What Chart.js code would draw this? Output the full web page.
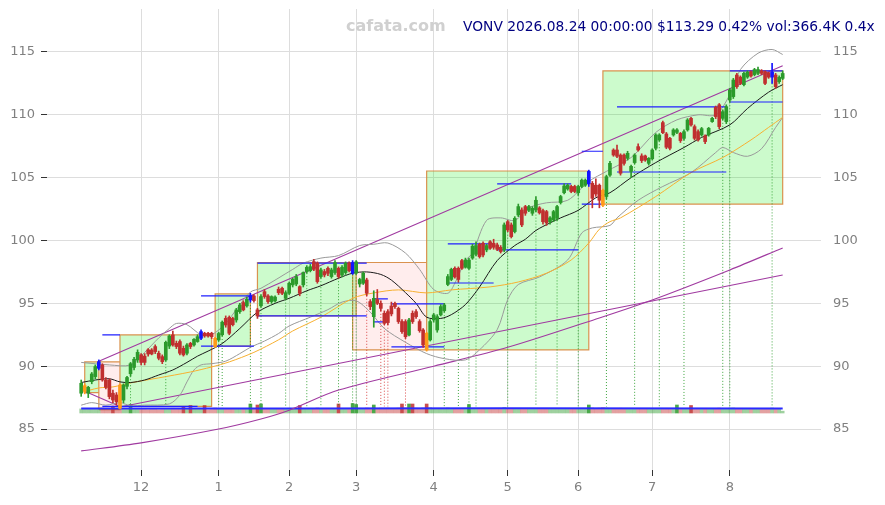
<!DOCTYPE html>
<html><head><meta charset="utf-8">
<script src="https://cdn.jsdelivr.net/npm/chart.js@4.4.1/dist/chart.umd.min.js"></script>
<style>
html,body{margin:0;padding:0;background:#fff;}
#wrap{position:relative;width:885px;height:505px;}
#wm{position:absolute;left:346px;top:16px;font:bold 16px "DejaVu Sans";color:#d0d0d0;white-space:nowrap;}
#ttl{position:absolute;left:463px;top:18px;font:13.8px "DejaVu Sans";color:#000080;white-space:nowrap;}
</style></head><body>
<div id="wrap"><canvas id="c" width="885" height="505"></canvas>
<div id="wm">cafata.com</div>
<div id="ttl">VONV 2026.08.24 00:00:00 $113.29 0.42% vol:366.4K 0.4x</div></div>
<script>
// ---- data ----
const monthStarts=[17,39,59,78,100,121,141,162,184];
const monthLabels=['12','1','2','3','4','5','6','7','8'];
const priceTicks=[85,90,95,100,105,110,115];
const opens=[87.85,88.0,87.85,88.77,89.17,89.83,90.1,88.9,88.9,87.85,87.71,88.5,87.3,88.4,89.4,89.9,90.5,90.9,90.8,91.3,
91.29,91.56,91.03,90.76,90.5,91.6,92.49,91.82,91.96,91.42,91.03,91.82,91.69,91.96,92.22,92.62,92.62,92.62,92.22,92.09,
92.5,93.81,93.89,93.8,93.68,94.34,95.06,94.8,95.27,95.59,94.48,94.8,95.93,95.59,95.14,95.2,96.12,96.2,95.4,95.8,
96.47,96.54,96.33,96.47,97.53,97.6,98.32,98.19,97.13,97.53,97.79,97.13,97.45,97.79,97.26,97.45,98.19,97.4,97.4,96.54,
96.6,96.86,95.14,93.94,95.3,95.0,94.21,94.34,94.79,95.0,94.6,93.55,93.55,92.48,94.21,94.34,93.55,92.88,92.62,92.09,
93.68,92.88,94.08,94.42,96.5,96.9,97.79,97.79,98.4,97.87,97.79,98.6,98.9,99.7,99.78,99.25,99.9,99.78,99.65,99.46,
99.25,101.5,101.24,100.71,102.03,102.43,102.7,102.4,102.17,102.43,102.6,102.38,102.3,101.5,101.64,101.77,103.02,103.8,104.1,104.3,
104.3,103.8,104.3,104.4,104.5,104.55,104.4,104.4,104.0,103.5,105.2,107.2,107.2,106.8,106.8,106.54,105.5,106.2,107.47,106.73,
106.73,106.14,106.5,107.34,108.0,109.38,108.48,108.13,108.4,108.6,108.53,108.13,108.8,109.72,109.06,108.66,108.4,108.32,108.4,109.46,
110.6,110.8,109.72,109.46,111.18,111.45,113.17,113.0,112.4,113.0,113.43,113.2,113.3,113.5,113.43,113.35,113.0,113.17,112.64,112.9];
const closes=[88.64,88.45,88.32,89.38,89.97,90.36,88.9,88.32,87.58,87.31,87.18,86.65,88.5,89.1,90.2,90.55,91.1,90.3,90.3,90.97,
90.97,91.16,90.63,90.36,91.9,92.4,91.69,91.56,91.03,90.9,91.69,91.56,92.14,92.35,92.75,92.41,92.41,92.35,91.56,92.6,
93.5,93.28,92.62,93.3,94.48,94.87,94.48,95.32,95.59,95.22,94.0,95.54,95.54,95.14,95.54,95.5,95.85,95.8,95.85,96.6,
96.92,97.13,95.8,97.45,97.87,97.92,97.71,96.73,97.66,97.26,97.39,97.66,98.24,97.13,97.87,98.19,97.6,98.24,98.3,96.9,
97.4,95.8,94.74,95.4,95.0,94.6,93.41,93.47,94.16,94.74,93.55,92.75,92.35,93.68,93.55,93.94,92.83,91.69,91.29,93.55,
94.08,93.94,94.74,94.87,97.13,97.7,97.1,96.9,97.79,98.45,98.45,99.55,99.6,98.72,98.85,99.6,99.38,99.46,99.3,99.12,
101.24,100.84,100.31,101.77,102.7,101.24,102.17,102.7,102.56,103.2,102.2,101.5,101.4,101.8,102.3,102.7,103.5,104.34,104.4,103.9,
103.9,104.3,104.8,104.8,105.5,103.36,103.7,103.2,102.8,105.08,106.14,106.8,106.7,105.35,106.14,106.94,105.9,106.8,107.2,106.36,
106.4,106.54,107.2,108.4,108.4,108.58,107.42,107.34,108.8,108.8,107.95,108.66,109.59,109.19,108.13,108.0,108.9,107.87,108.93,109.72,
109.86,109.06,110.25,110.65,111.98,112.77,112.24,112.5,113.3,113.4,113.09,113.6,113.6,113.3,112.5,113.0,113.4,112.24,112.98,113.29];
const highs=[88.9,88.6,88.4,89.5,90.1,90.5,90.2,89.1,89.0,88.1,87.9,88.6,88.6,89.2,90.3,90.7,91.3,91.0,91.0,91.4,
91.4,91.7,91.2,90.9,92.0,92.5,92.8,92.0,92.1,91.6,91.8,91.9,92.2,92.5,92.9,92.7,92.7,92.7,92.3,92.7,
93.6,94.0,94.0,93.9,94.6,95.0,95.2,95.5,95.8,95.7,94.6,95.7,96.1,95.7,95.6,95.6,96.3,96.3,96.0,96.7,
97.0,97.3,96.4,97.5,98.0,98.1,98.5,98.3,97.8,97.7,97.9,97.8,98.4,97.9,98.0,98.3,98.3,98.4,98.4,97.0,
97.5,97.0,95.3,96.0,96.1,95.2,94.4,94.5,95.1,95.1,94.7,93.7,93.7,93.8,94.4,94.5,93.7,93.0,92.7,93.7,
94.2,94.1,94.9,95.0,97.3,97.8,97.9,97.9,98.5,98.6,98.6,99.7,99.9,99.8,99.9,99.7,100.0,100.1,99.8,99.6,
101.4,101.6,101.4,101.9,102.9,102.6,102.8,102.8,102.7,103.5,102.7,102.5,102.4,101.9,102.4,102.8,103.6,104.5,104.5,104.4,
104.4,104.4,104.9,104.9,105.6,104.7,104.9,104.5,104.1,105.2,106.3,107.3,107.6,106.9,106.9,107.1,106.0,106.9,107.7,106.9,
106.8,106.6,107.3,108.5,108.5,109.5,108.6,108.2,108.9,108.9,108.6,108.8,109.7,109.8,109.2,108.8,109.0,108.4,109.0,109.8,
110.7,110.9,110.4,110.8,112.1,112.9,113.3,113.1,113.4,113.5,113.5,113.7,113.8,113.6,113.5,113.4,114.1,113.3,113.1,113.5];
const lows=[87.6,87.8,87.5,88.6,89.0,89.7,88.8,88.2,87.4,87.1,86.9,86.6,87.1,88.2,89.2,89.7,90.3,90.1,90.1,90.8,
90.9,91.0,90.5,90.2,90.4,91.4,91.6,91.4,90.9,90.8,90.9,91.4,91.6,91.9,92.1,92.3,92.3,92.2,91.5,92.0,
92.4,93.1,92.5,93.2,93.5,94.2,94.4,94.7,95.1,95.1,93.8,94.7,95.4,95.0,95.0,95.1,95.7,95.7,95.3,95.7,
96.3,96.4,95.6,96.3,97.4,97.5,97.6,96.6,97.0,97.1,97.2,97.0,97.3,97.0,97.1,97.3,97.5,97.3,97.3,96.3,
96.5,95.6,94.5,93.1,94.9,94.4,93.3,93.3,94.0,94.6,93.4,92.6,92.2,92.4,93.4,93.8,92.7,91.5,91.2,92.0,
93.5,92.7,94.0,94.3,96.4,96.8,97.0,96.7,97.7,97.8,97.7,98.5,98.8,98.6,98.7,99.1,99.3,99.3,99.2,99.0,
99.1,100.7,100.2,100.6,101.9,101.1,102.0,102.3,102.0,102.3,102.1,101.3,101.2,101.3,101.5,101.6,102.9,103.7,104.0,103.8,
103.8,103.6,104.2,104.3,104.3,102.6,103.5,102.6,102.7,103.3,105.1,106.7,106.6,105.2,106.0,106.4,105.0,106.1,107.1,106.2,
106.3,106.0,106.4,107.2,107.9,108.5,107.3,107.2,108.3,108.5,107.8,108.0,108.7,109.1,108.0,107.9,108.3,107.7,108.3,109.4,
109.7,108.9,109.6,109.3,111.0,111.3,112.1,112.4,112.3,112.9,113.0,113.1,113.2,113.2,112.4,112.9,112.5,112.1,112.5,112.8];
const volumes=[820,760,900,850,780,950,1000,880,920,1350,900,1100,950,870,1700,820,790,860,740,700,
760,810,690,720,880,900,950,780,830,1300,850,1500,760,800,900,1500,640,700,1000,820,
950,880,900,840,860,820,790,880,1800,900,1600,1800,800,760,820,740,880,860,900,950,
830,870,1500,900,840,800,900,1000,880,820,790,850,900,1800,860,880,920,1900,1700,950,
880,1000,950,1600,900,980,960,1000,940,900,980,1800,1000,1800,1800,960,940,1000,1800,1050,
920,880,900,940,1000,880,860,900,880,900,1700,860,840,900,880,820,860,800,840,790,
1100,880,900,860,880,940,860,800,780,900,860,920,880,800,820,900,880,860,820,800,
780,860,820,840,1600,1000,940,980,1100,1000,920,880,900,950,880,840,900,860,820,880,
860,800,820,900,860,900,940,880,840,1600,880,860,900,1500,920,900,860,880,840,900,
940,980,900,920,960,1000,940,900,880,860,840,860,820,800,900,840,1000,920,780,366];
const volAvg=[[0,900],[60,920],[120,950],[199,900]];
const blueBars=[5,34,48,77,144,196];
const orangeBars=[1,11,38,98,148];
const ma20=[[0,88.7],[4,88.9],[8,89.0],[11,88.75],[14,88.7],[18,88.9],[22,89.3],[26,89.7],[30,90.3],[33,90.8],[36,91.2],[40,91.8],[45,93.0],[50,94.3],[55,95.0],[59,95.4],[64,96.0],[68,96.4],[73,97.0],[77,97.4],[81,97.5],[85,97.3],[88,96.85],[92,95.85],[95,95.0],[98,93.9],[102,93.8],[105,94.1],[109,94.9],[113,96.3],[118,98.4],[123,99.6],[126,100.1],[129,100.8],[133,101.4],[136,101.8],[141,102.4],[146,103.4],[150,103.8],[156,105.0],[163,106.2],[171,107.4],[176,108.2],[184,109.2],[189,110.5],[195,111.8],[199,112.4]];
const ma50=[[0,87.9],[5,88.27],[9,88.35],[14,88.67],[22,89.07],[31,89.54],[37,89.94],[42,90.34],[49,91.1],[56,92.1],[60,92.8],[68,93.9],[77,95.4],[83,95.83],[90,96.07],[98,95.83],[105,96.07],[116,96.31],[124,96.7],[132,97.4],[139,98.45],[144,99.8],[147,100.9],[150,101.5],[153,101.8],[163,103.5],[173,105.4],[182,106.6],[190,108.0],[195,109.0],[199,109.8]];
const bbUpper=[[0,90.3],[8,90.1],[14,90.1],[18,91.1],[22,92.25],[25,93.0],[27,93.4],[30,93.3],[34,92.5],[37,92.5],[41,93.4],[44,94.5],[48,95.9],[51,96.2],[60,97.7],[63,98.2],[68,98.6],[73,98.8],[79,99.6],[83,99.7],[87,99.8],[92,99.0],[96,97.7],[100,96.1],[104,95.8],[106,96.6],[109,98.4],[111,99.0],[115,101.6],[119,101.8],[123,101.6],[127,102.6],[132,103.0],[138,103.2],[144,104.7],[149,105.5],[156,106.6],[163,108.6],[169,109.6],[175,110.0],[180,110.0],[184,111.6],[187,113.6],[192,114.9],[196,115.2],[199,114.8]];
const bbLower=[[0,86.9],[3,87.1],[7,86.9],[11,87.1],[14,86.85],[18,86.9],[25,87.0],[28,87.7],[30,88.75],[32,89.7],[34,90.1],[37,90.2],[41,90.4],[45,91.0],[48,91.5],[52,92.0],[56,92.6],[59,93.2],[65,93.9],[70,94.5],[74,95.1],[78,95.2],[82,94.3],[86,93.0],[92,91.9],[98,91.0],[103,90.6],[109,90.5],[113,91.3],[118,92.9],[121,95.3],[124,96.5],[130,97.1],[138,98.45],[142,100.6],[145,101.0],[150,101.2],[152,101.8],[158,103.2],[165,104.3],[173,105.4],[180,107.0],[182,107.4],[185,107.0],[189,106.7],[193,107.3],[197,109.0],[199,109.8]];
const trendCurve=[[0,83.26],[17,83.9],[39,85.0],[51,85.8],[59,86.5],[73,88.1],[100,90.0],[121,91.5],[147,93.84],[162,95.27],[184,97.66],[199,99.41]];
const trendLines=[[5,90.4,199,113.9],[11,86.75,199,97.26],[1,88.0,11,86.8]];
const levels=[[6,11,92.49],[6,33,86.8],[34,49,95.6],[34,49,91.6],[50,81,98.2],[50,81,94.0],[83,87,95.35],[83,87,93.52],[88,103,94.95],[88,103,91.53],[104,117,99.73],[104,117,96.62],[118,141,99.25],[118,139,104.5],[142,148,102.9],[142,148,107.1],[152,183,110.63],[152,183,105.45],[184,199,113.49],[184,199,111.02]];
const boxes=[[1,5,90.34,87.9,'up'],[5,11,90.34,86.55,'down'],[11,37,92.49,86.8,'up'],[38,48,95.75,91.6,'up'],[50,78,98.25,94.0,'up'],[77,98,98.25,91.3,'down'],[98,144,105.53,91.3,'up'],[148,199,113.49,102.9,'up']];
const buySignals=[14,24,39,40,48,51,58,64,68,73,77,78,103,107,110,112,121,129,135,141,149,157,164,171,182,184,196];
const sellSignals=[9,81,85,86,87,92];
const signalBase=86.8;

// ---- styles ----
const GREEN='#2b9a2b', RED='#c02f2f', BLUE='#1414ff', ORANGE='#ff9a1a';
const FONT={family:'DejaVu Sans',size:13};
const idx=opens.map((_,i)=>i);
const candleColor=i=>blueBars.includes(i)?BLUE:orangeBars.includes(i)?ORANGE:(closes[i]>=opens[i]?GREEN:RED);
const volColor=i=>{const up=closes[i]>=opens[i];const a=volumes[i]>1250?0.85:0.45;return up?`rgba(43,154,43,${a})`:`rgba(192,47,47,${a})`;};
const pts=a=>a.map(([x,y])=>({x,y}));

const ds=[];
boxes.forEach(([a,b,top,bot,k])=>{
  ds.push({type:'line',data:[{x:a,y:top},{x:b,y:top}],fill:{value:bot},
    backgroundColor:k==='up'?'rgba(0,235,0,0.2)':'rgba(255,60,60,0.09)',borderWidth:0,pointRadius:0,order:100});
});
const borderPts=[];
boxes.forEach(([a,b,top,bot])=>{borderPts.push({x:a,y:bot},{x:a,y:top},{x:b,y:top},{x:b,y:bot},{x:a,y:bot},{x:a,y:null});});
ds.push({type:'line',data:borderPts,borderColor:'rgba(214,135,60,0.9)',borderWidth:1.2,pointRadius:0,fill:false,spanGaps:false,order:90});
// volume
ds.push({type:'bar',yAxisID:'yv',data:idx.map(i=>({x:i,y:volumes[i]})),backgroundColor:idx.map(volColor),barThickness:3,grouped:false,order:60});
ds.push({type:'line',yAxisID:'yv',data:pts(volAvg),borderColor:'#2a2aff',borderWidth:2,pointRadius:0,fill:false,order:55});
// signals
const sig=list=>{const p=[];list.forEach(i=>{p.push({x:i,y:lows[i]},{x:i,y:signalBase},{x:i,y:null});});return p;};
ds.push({type:'line',data:sig(buySignals),borderColor:'rgba(30,150,30,0.85)',borderWidth:1,borderDash:[1,2],pointRadius:0,fill:false,spanGaps:false,order:40});
ds.push({type:'line',data:sig(sellSignals),borderColor:'rgba(210,40,40,0.85)',borderWidth:1,borderDash:[1,2],pointRadius:0,fill:false,spanGaps:false,order:40});
// trend lines
const tl=[];trendLines.forEach(([a,p,b,q])=>{tl.push({x:a,y:p},{x:b,y:q},{x:b,y:null});});
ds.push({type:'line',data:tl,borderColor:'#a03aa0',borderWidth:1.1,pointRadius:0,fill:false,spanGaps:false,order:30});
ds.push({type:'line',data:pts(trendCurve),borderColor:'#a03aa0',borderWidth:1.1,pointRadius:0,fill:false,tension:0.3,order:30});
// bands and averages
ds.push({type:'line',data:pts(bbUpper),borderColor:'#999999',borderWidth:1,pointRadius:0,fill:false,tension:0.3,order:25});
ds.push({type:'line',data:pts(bbLower),borderColor:'#999999',borderWidth:1,pointRadius:0,fill:false,tension:0.3,order:25});
ds.push({type:'line',data:pts(ma50),borderColor:'#f7b030',borderWidth:1,pointRadius:0,fill:false,tension:0.3,order:24});
ds.push({type:'line',data:pts(ma20),borderColor:'#1a1a1a',borderWidth:1,pointRadius:0,fill:false,tension:0.3,order:23});
// levels
const lv=[];levels.forEach(([a,b,p])=>{lv.push({x:a,y:p},{x:b,y:p},{x:b,y:null});});
ds.push({type:'line',data:lv,borderColor:'#2020ff',borderWidth:1.2,pointRadius:0,fill:false,spanGaps:false,order:20});
// candles
ds.push({type:'bar',data:idx.map(i=>({x:i,y:[lows[i],highs[i]]})),backgroundColor:idx.map(candleColor),barThickness:1,grouped:false,order:3});
ds.push({type:'bar',data:idx.map(i=>({x:i,y:[opens[i],closes[i]]})),backgroundColor:idx.map(candleColor),barThickness:3,minBarLength:1,grouped:false,order:2});

const yTicks=s=>{s.ticks=priceTicks.map(v=>({value:v}));};
const noPadV=w=>s=>{s.width=w;s.paddingTop=0;s.paddingBottom=0;};
new Chart(document.getElementById('c'),{
  type:'line',
  data:{datasets:ds},
  options:{
    responsive:false,animation:false,devicePixelRatio:1,events:[],
    layout:{padding:{top:9,left:0,right:0,bottom:0}},
    plugins:{legend:{display:false},tooltip:{enabled:false}},
    scales:{
      x:{type:'linear',min:-9.7,max:209.87,offset:false,
        afterBuildTicks:s=>{s.ticks=monthStarts.map(v=>({value:v}));},
        afterFit:s=>{s.height=35;s.paddingLeft=0;s.paddingRight=0;},
        ticks:{autoSkip:false,maxRotation:0,padding:4,color:'#808080',font:FONT,callback:(v,i)=>monthLabels[i]},
        grid:{color:'#dddddd',lineWidth:1,tickLength:6,tickColor:'#333333',offset:false},
        border:{display:false}},
      y:{type:'linear',position:'left',min:81.74,max:118.42,beginAtZero:false,
        afterBuildTicks:yTicks,afterFit:noPadV(47),
        ticks:{padding:6,color:'#808080',font:FONT},
        grid:{color:'#dddddd',lineWidth:1,tickLength:6,tickColor:'#333333'},
        border:{display:false}},
      y2:{type:'linear',position:'right',min:81.74,max:118.42,
        afterBuildTicks:yTicks,afterFit:noPadV(64),
        ticks:{padding:12,color:'#808080',font:FONT},
        grid:{drawOnChartArea:false,drawTicks:false},
        border:{display:false}},
      yv:{type:'linear',display:false,min:-11400,max:80800,afterFit:s=>{s.paddingTop=0;s.paddingBottom=0;}}
    }
  }
});
</script>
</body></html>
